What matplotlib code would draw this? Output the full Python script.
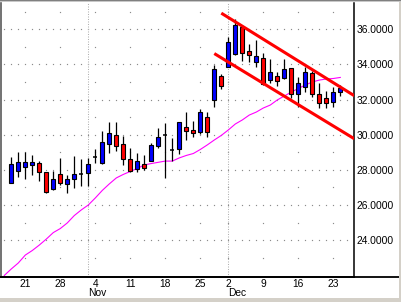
import numpy as np
import pandas as pd
import matplotlib
matplotlib.use('Agg')
import matplotlib.pyplot as plt
from matplotlib.patches import Rectangle
from matplotlib.lines import Line2D

# ---------------- data ----------------
dates = pd.bdate_range('2002-10-17', '2002-12-24').drop(pd.Timestamp('2002-11-28'))

opens = [27.27, 27.92, 28.15, 28.26, 28.41, 27.86, 26.93, 27.76, 27.18, 27.46,
         27.76, 27.80, 28.75, 28.41, 29.45, 29.98, 29.47, 28.62, 28.03, 28.32,
         28.52, 29.37, 29.98, 29.13, 29.17, 30.42, 30.25, 30.14, 30.99, 31.98,
         33.36, 33.87, 34.59, 36.15, 34.76, 34.16, 34.35, 33.11, 33.33, 33.25,
         33.78, 32.30, 32.73, 33.50, 32.30, 32.07, 31.88, 32.41]
highs = [28.75, 29.00, 29.00, 28.85, 28.50, 27.86, 27.95, 28.68, 27.71, 28.79,
         28.60, 28.66, 29.17, 30.23, 30.71, 30.71, 29.93, 29.26, 28.94, 28.85,
         29.51, 30.38, 30.65, 29.80, 30.71, 31.31, 30.78, 31.45, 31.31, 33.97,
         33.46, 35.58, 36.59, 36.24, 35.16, 35.39, 34.63, 34.31, 33.55, 34.31,
         33.78, 33.27, 33.87, 33.64, 32.93, 32.51, 32.73, 32.83]
lows = [27.25, 27.61, 27.46, 27.72, 27.35, 26.67, 26.85, 27.16, 26.67, 26.95,
        27.10, 27.10, 28.41, 28.32, 28.94, 29.09, 28.28, 27.90, 27.88, 27.99,
        28.50, 29.23, 27.52, 28.50, 28.89, 29.70, 29.87, 30.05, 29.85, 31.59,
        32.59, 33.84, 34.55, 34.21, 34.16, 33.87, 32.83, 32.93, 32.77, 33.17,
        32.07, 31.59, 32.45, 32.13, 31.50, 31.50, 31.59, 32.22]
closes = [28.33, 28.45, 28.43, 28.43, 27.90, 26.76, 27.46, 27.24, 27.46, 27.75,
          27.76, 28.33, 28.75, 29.57, 30.08, 29.38, 28.61, 27.95, 28.50, 28.10,
          29.41, 29.85, 29.98, 29.13, 30.71, 30.23, 30.12, 31.28, 30.14, 33.74,
          32.79, 35.26, 36.24, 34.63, 34.54, 34.48, 32.89, 33.59, 33.06, 33.72,
          32.30, 32.93, 33.55, 32.30, 31.82, 31.79, 32.41, 32.68]

# moving average, first value belongs to the session before the first candle
ma_start = -1
ma_values = [21.99, 22.36, 22.70, 23.15, 23.41, 23.72, 24.06, 24.43, 24.66, 24.98,
             25.40, 25.72, 26.00, 26.40, 26.83, 27.20, 27.54, 27.74, 27.91, 28.08,
             28.28, 28.36, 28.43, 28.50, 28.50, 28.68, 28.82, 28.93, 29.16, 29.42,
             29.70, 29.96, 30.27, 30.61, 30.84, 31.12, 31.29, 31.52, 31.69, 31.98,
             32.20, 32.43, 32.63, 32.83, 33.00, 33.11, 33.17, 33.20, 33.26]

# channel lines (trading-day index, price)
upper_x = [30.0, 49.0]
upper_y = [36.92, 32.22]
lower_x = [29.0, 49.0]
lower_y = [34.62, 29.77]

y_ticks = [24, 26, 28, 30, 32, 34, 36]

# ---------------- figure ----------------
W, H = 401, 302
fig = plt.figure(figsize=(W / 100, H / 100), dpi=100)
fig.patch.set_facecolor('white')
ax = fig.add_axes([1 / W, (H - 277) / H, 353 / W, 274 / H])
ax.set_facecolor('white')

FONT = 'Liberation Sans'
FS = 7.4

x = np.arange(len(dates))
o = np.array(opens); h = np.array(highs); l = np.array(lows); c = np.array(closes)

ax.set_xlim(-1.471, 48.957)
ax.set_ylim(21.902, 37.497)

# grid dots
grid_col = '#8c8c8c'
day_idx = np.arange(-1, 49)
for v in y_ticks:
    ax.plot(day_idx, np.full(day_idx.size, v), ls='none', marker='s', ms=0.85,
            mew=0, color=grid_col, zorder=0.5)
mondays = [i for i, d in enumerate(dates) if d.weekday() == 0]
odd_vals = np.arange(23, 38, 2)
for m in mondays:
    ax.plot(np.full(odd_vals.size, m), odd_vals, ls='none', marker='s', ms=0.85,
            mew=0, color=grid_col, zorder=0.5)

month_starts = [i for i in range(1, len(dates)) if dates[i].month != dates[i - 1].month]
for m in month_starts:
    ax.axvline(m, color='#b0b0b0', lw=0.75, ls=(0, (1, 1.4)), zorder=0.6)

# moving average
ma_x = np.arange(ma_start, ma_start + len(ma_values))
ax.plot(ma_x, ma_values, color='#ff00ff', lw=0.8, zorder=1)

# candles
ax.vlines(x, l, h, color='black', lw=0.9, zorder=2)
up = c > o
down = c < o
flat = c == o
bw = 0.62
ax.bar(x[up], (c - o)[up], bottom=o[up], width=bw, color='#0000ff',
       edgecolor='black', linewidth=0.8, zorder=3)
ax.bar(x[down], (o - c)[down], bottom=c[down], width=bw, color='#ff0000',
       edgecolor='black', linewidth=0.8, zorder=3)
ax.hlines(c[flat], x[flat] - bw / 2, x[flat] + bw / 2, color='black', lw=1.1, zorder=3)

# channel
ax.plot(upper_x, upper_y, color='#ff0000', lw=2.2, zorder=4, solid_capstyle='butt')
ax.plot(lower_x, lower_y, color='#ff0000', lw=2.2, zorder=4, solid_capstyle='butt')

# axes styling
ax.spines['top'].set_visible(False)
ax.spines['left'].set_color('#5a5a5a')
ax.spines['left'].set_linewidth(1.2)
ax.spines['right'].set_color('black')
ax.spines['right'].set_linewidth(1.1)
ax.spines['bottom'].set_color('black')
ax.spines['bottom'].set_linewidth(1.3)
ax.plot([0, (399 - 1) / 353], [0, 0], transform=ax.transAxes, color='black',
        lw=1.3, clip_on=False, zorder=5)

ax.yaxis.tick_right()
ax.set_yticks(y_ticks)
ax.set_yticklabels([f'{v:.4f}' for v in y_ticks], fontfamily=FONT, fontsize=FS)
ax.set_xticks(mondays)
ax.set_xticklabels([str(dates[i].day) for i in mondays], fontfamily=FONT, fontsize=FS)
ax.tick_params(axis='both', length=0)
ax.tick_params(axis='y', pad=1.6)
ax.tick_params(axis='x', pad=1.4)

for m in month_starts:
    ax.annotate(dates[m].strftime('%b'), xy=(m, 0), xycoords=('data', 'axes fraction'),
                xytext=(-0.3, -7.6), textcoords='offset points', ha='left', va='top',
                fontfamily=FONT, fontsize=FS, annotation_clip=False)

# window-like border
fig.add_artist(Rectangle((0, 0), 1, 4 / H, transform=fig.transFigure,
                         color='#d4d0c8', lw=0, zorder=10))
fig.add_artist(Rectangle((399 / W, 0), 2 / W, 1, transform=fig.transFigure,
                         color='#d4d0c8', lw=0, zorder=10))
fig.add_artist(Rectangle((0, (H - 1) / H), 1, 1 / H, transform=fig.transFigure,
                         color='#808080', lw=0, zorder=10))
fig.add_artist(Rectangle((0, (H - 2) / H), 1, 1 / H, transform=fig.transFigure,
                         color='#c8c8c8', lw=0, zorder=10))

fig.savefig('out.png', dpi=100, facecolor='white')
